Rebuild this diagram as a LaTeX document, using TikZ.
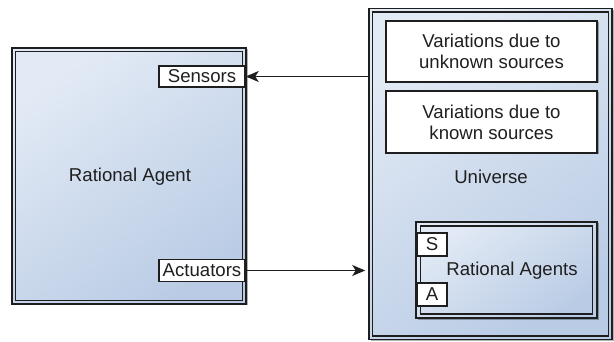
\documentclass[tikz,border=0pt]{standalone}
\usepackage{fontspec}
\setmainfont{Liberation Sans}
\usetikzlibrary{arrows.meta,shadows}
\definecolor{bluelight}{RGB}{226,234,245}
\definecolor{bluedark}{RGB}{186,204,229}
\definecolor{edge}{RGB}{30,30,30}
\begin{document}
\begin{tikzpicture}[x=1pt,y=-1pt,
  font=\fontsize{18.6}{21}\selectfont,
  shadowed/.style={drop shadow={shadow xshift=1.5pt,shadow yshift=-1.5pt,opacity=.3,fill=black}},
  container/.style={rectangle,draw=edge,line width=1.6pt,top color=bluelight,bottom color=bluedark,shading angle=35,shadowed,inner sep=0pt},
  textbox/.style={rectangle,draw=edge,line width=1.5pt,fill=white,shadowed,inner sep=0pt,align=center,text=black!88},
  port/.style={rectangle,draw=edge,line width=1.5pt,fill=white,inner sep=0pt,text=black!88},
  lbl/.style={text=black!88,inner sep=0pt},
  inner/.style={draw=edge,line width=1.4pt},
  flow/.style={draw=edge,line width=1.5pt,-{Stealth[length=13pt,width=11pt,inset=3.5pt]}}]
\useasboundingbox (0,0) rectangle (614,342);

% Rational Agent (left)
\node[container,minimum width=234pt,minimum height=256pt] (agent) at (129,176) {};
\draw[inner] ([shift={(4.5,4.5)}]agent.north west) rectangle ([shift={(-4.5,-4.5)}]agent.south east);
\node[lbl] (agentlbl) at (130,177) {Rational Agent};
\node[port,minimum width=86pt,minimum height=21pt] (sensors) at (202,76.5) {Sensors};
\node[port,minimum width=86pt,minimum height=22pt] (actuators) at (202,270.5) {Actuators};

% Universe (right)
\node[container,minimum width=243pt,minimum height=331pt] (universe) at (490.5,174) {};
\draw[inner] ([shift={(4.5,4.5)}]universe.north west) rectangle ([shift={(-4.5,-4.5)}]universe.south east);
\node[textbox,minimum width=211pt,minimum height=61pt] (unknown) at (491.5,51.5) {Variations due to\\unknown sources};
\node[textbox,minimum width=211pt,minimum height=62pt] (known) at (491.5,122) {Variations due to\\known sources};
\node[lbl] (universelbl) at (491,177) {Universe};

% Rational Agents (inside universe)
\node[container,minimum width=181pt,minimum height=96pt] (agents) at (506.5,270) {};
\draw[inner] ([shift={(5.5,5)}]agents.north west) rectangle ([shift={(-5.5,-5)}]agents.south east);
\node[lbl] (agentslbl) at (512,271) {Rational Agents};
\node[port,minimum width=30pt,minimum height=23pt] (s) at (432,244.5) {S};
\node[port,minimum width=30pt,minimum height=23pt] (a) at (432,294.5) {A};

% connectors
\draw[flow] (universe.west |- sensors.east) -- (sensors.east);
\draw[flow] (actuators.east) -- ([xshift=-3pt]universe.west |- actuators.east);
\end{tikzpicture}
\end{document}
